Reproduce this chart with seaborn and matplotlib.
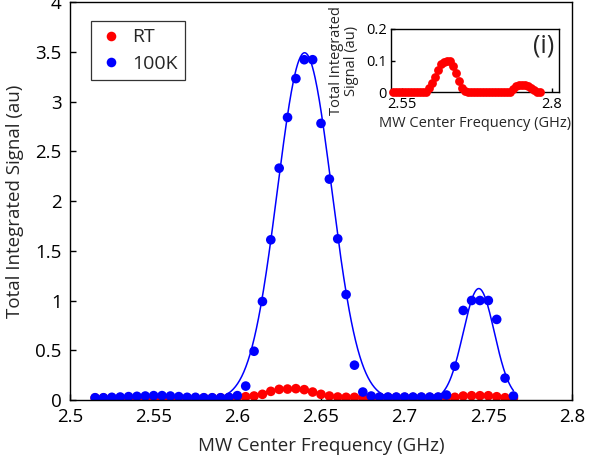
import numpy as np
import pandas as pd
import matplotlib
matplotlib.use("Agg")
import matplotlib.pyplot as plt
import seaborn as sns

# ---------------- data ----------------
freq = [2.515, 2.520, 2.525, 2.530, 2.535, 2.540, 2.545, 2.550, 2.555, 2.560,
        2.565, 2.570, 2.575, 2.580, 2.585, 2.590, 2.595, 2.600, 2.605, 2.610,
        2.615, 2.620, 2.625, 2.630, 2.635, 2.640, 2.645, 2.650, 2.655, 2.660,
        2.665, 2.670, 2.675, 2.680, 2.685, 2.690, 2.695, 2.700, 2.705, 2.710,
        2.715, 2.720, 2.725, 2.730, 2.735, 2.740, 2.745, 2.750, 2.755, 2.760,
        2.765]

signal_100k = [0.023, 0.023, 0.027, 0.030, 0.034, 0.037, 0.040, 0.044, 0.044, 0.040,
               0.034, 0.027, 0.027, 0.023, 0.023, 0.023, 0.027, 0.044, 0.14, 0.49,
               0.99, 1.61, 2.33, 2.84, 3.23, 3.42, 3.42, 2.78, 2.22, 1.62,
               1.06, 0.35, 0.08, 0.04, 0.03, 0.03, 0.03, 0.03, 0.03, 0.03,
               0.03, 0.03, 0.05, 0.34, 0.90, 1.00, 1.00, 1.00, 0.81, 0.22,
               0.04]

signal_rt = [0.020, 0.020, 0.020, 0.021, 0.021, 0.022, 0.022, 0.022, 0.021, 0.021,
             0.020, 0.020, 0.020, 0.020, 0.020, 0.021, 0.022, 0.025, 0.033, 0.040,
             0.057, 0.087, 0.107, 0.110, 0.114, 0.104, 0.080, 0.057, 0.040, 0.030,
             0.027, 0.027, 0.026, 0.025, 0.025, 0.025, 0.025, 0.025, 0.025, 0.025,
             0.025, 0.025, 0.025, 0.027, 0.040, 0.043, 0.043, 0.043, 0.033, 0.023,
             0.020]

# Gaussian fit parameters for the 100K curve
fit_amp = [3.49, 1.12]
fit_center = [2.6402, 2.7443]
fit_sigma = [0.0162, 0.0093]

# inset: RT signal (baseline removed)
inset_freq = [2.535, 2.540, 2.545, 2.550, 2.555, 2.560, 2.565, 2.570, 2.575, 2.580,
              2.585, 2.590, 2.595, 2.600, 2.605, 2.610, 2.615, 2.620, 2.625, 2.630,
              2.635, 2.640, 2.645, 2.650, 2.655, 2.660, 2.665, 2.670, 2.675, 2.680,
              2.685, 2.690, 2.695, 2.700, 2.705, 2.710, 2.715, 2.720, 2.725, 2.730,
              2.735, 2.740, 2.745, 2.750, 2.755, 2.760, 2.765, 2.770, 2.775, 2.780]
inset_rt = [0, 0, 0, 0, 0, 0, 0, 0, 0, 0,
            0, 0, 0.015, 0.030, 0.050, 0.070, 0.090, 0.097, 0.100, 0.100,
            0.085, 0.060, 0.035, 0.015, 0.005, 0, 0, 0, 0, 0,
            0, 0, 0, 0, 0, 0, 0, 0, 0, 0,
            0.010, 0.020, 0.025, 0.025, 0.025, 0.020, 0.015, 0.008, 0.003, 0]

x_ticks = [2.5, 2.55, 2.6, 2.65, 2.7, 2.75, 2.8]
x_tick_labels = ["2.5", "2.55", "2.6", "2.65", "2.7", "2.75", "2.8"]
y_ticks = [0, 0.5, 1, 1.5, 2, 2.5, 3, 3.5, 4]
y_tick_labels = ["0", "0.5", "1", "1.5", "2", "2.5", "3", "3.5", "4"]

# ---------------- style ----------------
sns.set_theme(style="white")
plt.rcParams['font.family'] = ['Open Sans', 'DejaVu Sans']
plt.rcParams['axes.linewidth'] = 1.0

RED = "#ff0000"
BLUE = "#0000ff"

fig = plt.figure(figsize=(5.92, 4.69), dpi=100)
ax = fig.add_axes([70 / 592, 1 - 400 / 469, 502 / 592, 398 / 469])

df = pd.DataFrame({"freq": freq, "RT": signal_rt, "100K": signal_100k})
long = df.melt(id_vars="freq", var_name="series", value_name="signal")

# fitted curve (sum of two Gaussians)
xfine = np.linspace(min(freq), max(freq), 600)
fit_fine = np.zeros_like(xfine)
for a, c, s in zip(fit_amp, fit_center, fit_sigma):
    fit_fine += a * np.exp(-(xfine - c) ** 2 / (2 * s ** 2))
sns.lineplot(x=xfine, y=fit_fine, ax=ax, color=BLUE, lw=1.1, zorder=2)

sns.scatterplot(data=long, x="freq", y="signal", hue="series",
                palette={"RT": RED, "100K": BLUE}, s=48, linewidth=0,
                ax=ax, zorder=3, legend=True)

ax.set_xlim(2.5, 2.8)
ax.set_ylim(0, 4)
ax.set_xticks(x_ticks)
ax.set_xticklabels(x_tick_labels)
ax.set_yticks(y_ticks)
ax.set_yticklabels(y_tick_labels)
ax.tick_params(direction="in", length=4, width=1, labelsize=13.5, colors="black",
               left=True, bottom=True, pad=6)
ax.set_xlabel("MW Center Frequency (GHz)", fontsize=13.5, labelpad=8)
ax.set_ylabel("Total Integrated Signal (au)", fontsize=13.5, labelpad=8)
for sp in ax.spines.values():
    sp.set_color("black")
    sp.set_linewidth(1.0)
    sp.set_zorder(5)

leg = ax.legend(loc="upper left", bbox_to_anchor=(0.042, 0.953), borderaxespad=0,
                fontsize=14, frameon=True, fancybox=False, edgecolor="black",
                handlelength=1.2, handletextpad=0.5, borderpad=0.4,
                labelspacing=0.42, markerscale=1.0)
leg.get_frame().set_linewidth(0.9)

# ---------------- inset ----------------
axi = fig.add_axes([391 / 592, 1 - 92.5 / 469, 168 / 592, 63.5 / 469])
sns.scatterplot(x=inset_freq, y=inset_rt, ax=axi, color=RED, s=40, linewidth=0,
                zorder=3, clip_on=False)
axi.set_xlim(2.532, 2.812)
axi.set_ylim(0, 0.2)
axi.set_xticks([2.55, 2.8])
axi.set_xticklabels(["2.55", "2.8"])
axi.set_yticks([0, 0.1, 0.2])
axi.set_yticklabels(["0", "0.1", "0.2"])
axi.tick_params(direction="in", length=3, width=1, labelsize=10.5, colors="black",
                left=True, bottom=True, pad=3)
axi.set_xlabel("MW Center Frequency (GHz)", fontsize=10.5, labelpad=3)
axi.set_ylabel("Total Integrated\nSignal (au)", fontsize=10.5, linespacing=1.0)
axi.yaxis.set_label_coords(-0.19, 0.5)
for sp in axi.spines.values():
    sp.set_color("black")
    sp.set_linewidth(1.0)
axi.text(0.97, 0.93, "(i)", transform=axi.transAxes, ha="right", va="top",
         fontsize=18)

fig.savefig("out.png", dpi=100)
